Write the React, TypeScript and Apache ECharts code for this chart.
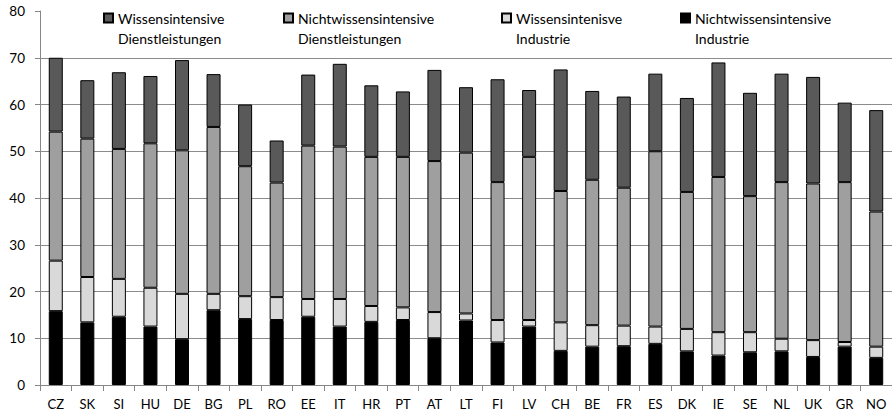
import React, { useEffect, useRef } from "react";
import * as echarts from "echarts";

const categories = ["CZ","SK","SI","HU","DE","BG","PL","RO","EE","IT","HR","PT","AT","LT","FI","LV","CH","BE","FR","ES","DK","IE","SE","NL","UK","GR","NO"];
const nichtwissensintensiveIndustrie = [15.8,13.4,14.6,12.5,9.8,16.0,14.1,13.9,14.6,12.5,13.5,13.9,10.0,13.8,9.1,12.5,7.3,8.2,8.3,8.8,7.2,6.3,7.0,7.2,6.0,8.2,5.8];
const wissensintensiveIndustrie = [10.8,9.7,8.1,8.3,9.7,3.5,4.9,4.9,3.8,5.9,3.4,2.7,5.6,1.5,4.8,1.4,6.1,4.6,4.4,3.7,4.8,5.0,4.3,2.7,3.6,1.0,2.4];
const nichtwissensintensiveDienst = [27.6,29.6,27.8,30.9,30.7,35.7,27.8,24.5,32.8,32.6,31.9,32.2,32.3,34.4,29.5,34.9,28.1,31.1,29.5,37.5,29.3,33.2,29.1,33.5,33.5,34.2,28.9];
const wissensintensiveDienst = [15.8,12.5,16.4,14.4,19.3,11.3,13.2,9.0,15.2,17.7,15.3,14.0,19.5,14.0,22.0,14.3,26.0,19.0,19.5,16.6,20.1,24.5,22.1,23.2,22.8,17.0,21.7];
const yTicks = [0, 10, 20, 30, 40, 50, 60, 70, 80];

const names = {
  wd: "Wissensintensive\nDienstleistungen",
  nd: "Nichtwissensintensive\nDienstleistungen",
  wi: "Wissensintenisve\nIndustrie",
  ni: "Nichtwissensintensive\nIndustrie",
};

const FONT = "Lato";

export default function App() {
  const ref = useRef<HTMLDivElement>(null);
  useEffect(() => {
    if (!ref.current) return;
    const chart = echarts.init(ref.current, undefined, { renderer: "svg" });
    const legendBase = (name: string, left: number) => ({
      data: [name],
      left,
      top: -12,
      padding: 0,
      itemWidth: 9,
      itemHeight: 9,
      itemGap: 4,
      icon: "rect",
      selectedMode: false,
      formatter: (n: string) => "\n" + n,
      textStyle: {
        fontFamily: FONT,
        fontSize: 14,
        color: "#000",
        lineHeight: 20,
      },
    });
    const barStyle = (color: string) => ({
      color,
      borderColor: "#000",
      borderWidth: 1,
    });
    chart.setOption({
      animation: false,
      backgroundColor: "#fff",
      legend: [
        legendBase(names.wd, 103),
        legendBase(names.nd, 283),
        legendBase(names.wi, 501),
        legendBase(names.ni, 680),
      ],
      grid: { left: 40, right: -3, top: 11, bottom: 30, containLabel: false },
      xAxis: {
        type: "category",
        data: categories,
        axisLine: { lineStyle: { color: "#868686", width: 1 } },
        axisTick: { show: true, length: 6, lineStyle: { color: "#868686" } },
        axisLabel: { fontFamily: FONT, fontSize: 13, color: "#000", margin: 12 },
      },
      yAxis: {
        type: "value",
        min: 0,
        max: 80,
        interval: 10,
        axisLine: { show: true, lineStyle: { color: "#868686", width: 1 } },
        axisTick: { show: true, inside: false, length: 5, lineStyle: { color: "#868686" } },
        axisLabel: {
          fontFamily: FONT,
          fontSize: 13.5,
          color: "#000",
          margin: 15,
          formatter: (v: number) => (yTicks.includes(v) ? String(v) : ""),
        },
        splitLine: { show: true, showMaxLine: false, lineStyle: { color: "#8c8c8c", width: 1 } },
      },
      series: [
        { name: names.ni, type: "bar", stack: "s", data: nichtwissensintensiveIndustrie, barWidth: 14, itemStyle: barStyle("#000000") },
        { name: names.wi, type: "bar", stack: "s", data: wissensintensiveIndustrie, barWidth: 14, itemStyle: barStyle("#d9d9d9") },
        { name: names.nd, type: "bar", stack: "s", data: nichtwissensintensiveDienst, barWidth: 14, itemStyle: barStyle("#9f9f9f") },
        { name: names.wd, type: "bar", stack: "s", data: wissensintensiveDienst, barWidth: 14, itemStyle: barStyle("#595959") },
      ],
    });
    return () => chart.dispose();
  }, []);
  return (
    <div
      ref={ref}
      style={{ position: "fixed", left: 0, top: 0, width: 892, height: 415 }}
    />
  );
}
